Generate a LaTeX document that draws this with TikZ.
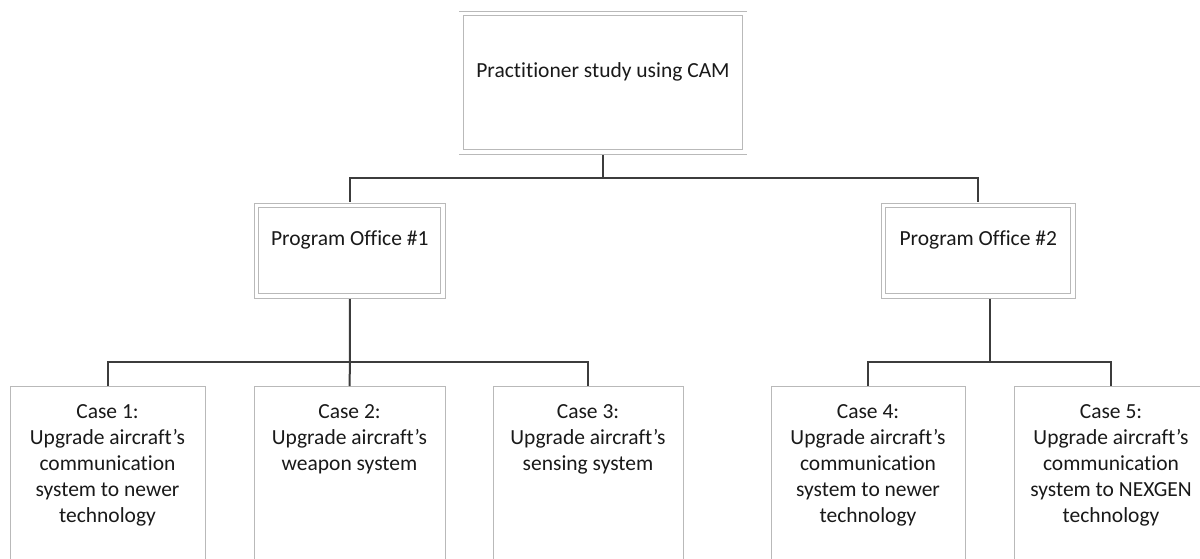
\documentclass[tikz,border=0pt]{standalone}
\usepackage{fontspec}
\setmainfont{Carlito}[Ligatures=NoCommon]
\definecolor{boxgray}{RGB}{185,185,185}
\definecolor{linkgray}{RGB}{60,60,60}
\definecolor{txtgray}{RGB}{25,25,25}
\tikzset{orgchart/.style={x=1pt,y=-1pt,font=\fontsize{21.5}{26}\selectfont,text=txtgray},
  dblbox/.style={draw=boxgray,line width=0.9pt,double=white,double distance=3.6pt,
    inner sep=0pt,anchor=north,text height=40pt,text depth=50.5pt},
  casebox/.style={draw=boxgray,line width=1pt,anchor=north,inner sep=0pt,
    text height=32pt,text depth=210pt},
  link/.style={draw=linkgray,line width=2pt}}
\newcommand{\casetext}[1]{\begin{tabular}[t]{@{}c@{}}#1\end{tabular}}

\begin{document}
\begin{tikzpicture}[orgchart]
    \useasboundingbox (0,0) rectangle (1200,558);
    \clip (0,0) rectangle (1200,558);
    \node[dblbox,minimum width=283.5pt,text height=64pt,text depth=74.5pt] (study) at (603,13)
      {Practitioner study using CAM};
    \node[dblbox,minimum width=186.5pt] (po1) at (349.75,205) {Program Office \#1};
    \node[dblbox,minimum width=189.5pt] (po2) at (978.25,205) {Program Office \#2};
    \node[casebox,minimum width=195pt] (case1) at (107.5,386)
      {\casetext{Case 1:\\Upgrade aircraft’s\\communication\\system to newer\\technology}};
    \node[casebox,minimum width=191pt] (case2) at (349.5,386)
      {\casetext{Case 2:\\Upgrade aircraft’s\\weapon system}};
    \node[casebox,minimum width=190pt] (case3) at (588,386)
      {\casetext{Case 3:\\Upgrade aircraft’s\\sensing system}};
    \node[casebox,minimum width=194pt] (case4) at (868,386)
      {\casetext{Case 4:\\Upgrade aircraft’s\\communication\\system to newer\\technology}};
    \node[casebox,minimum width=194pt] (case5) at (1111,386)
      {\casetext{Case 5:\\Upgrade aircraft’s\\communication\\system to NEXGEN\\technology}};
    \coordinate (top) at (603,178);
    \coordinate (left) at (350,362);
    \coordinate (right) at (990,362);
    \draw[link,shorten <=2.7pt] (study.south) -- (top);
    \draw[link,shorten >=2.7pt] (top) -| (po1.north);
    \draw[link,shorten >=2.7pt] (top) -| (po2.north);
    \draw[link,shorten <=2.7pt] (po1.south) -- (left);
    \draw[link] (case1.north) |- (left) -| (case3.north);
    \draw[link] (left) -- (case2.north);
    \draw[link,shorten <=2.7pt] ([xshift=11.75pt]po2.south) -- (right);
    \draw[link] (case4.north) |- (right) -| (case5.north);
\end{tikzpicture}
\end{document}
